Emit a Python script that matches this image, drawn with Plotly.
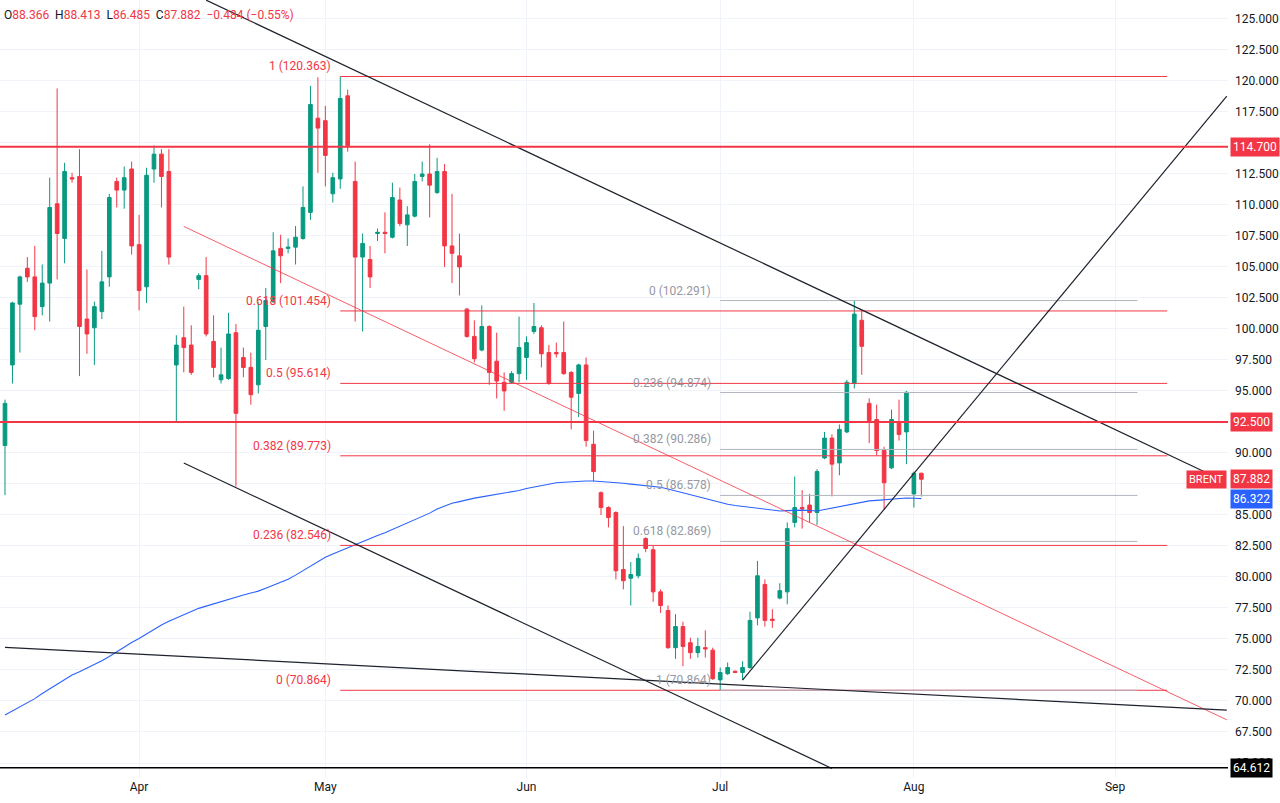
import pandas as pd
import plotly.graph_objects as go

# ---------------- data ----------------
opens = [90.6, 97.1, 102.0, 104.9, 104.2, 101.8, 103.7, 110.1, 107.3, 112.2,
         112.3, 100.8, 100.1, 101.4, 104.2, 111.9, 111.2, 112.9, 106.8, 103.4,
         112.9, 114.1, 112.7, 97.1, 99.3, 98.7, 104.0, 104.3, 99.0, 95.9,
         96.0, 99.7, 97.7, 96.9, 95.5, 100.2, 102.2, 106.5, 106.5, 106.6,
         107.3, 109.4, 117.0, 116.8, 110.9, 112.1, 118.8, 111.9, 105.8, 105.6,
         107.7, 107.8, 107.4, 110.4, 108.4, 109.1, 112.3, 112.5, 111.0, 112.7,
         106.7, 105.9, 101.6, 99.4, 98.3, 100.2, 97.4, 95.7, 95.7, 96.4,
         97.7, 99.8, 100.1, 98.1, 98.1, 98.1, 96.5, 94.8, 97.1, 90.7,
         86.8, 85.6, 85.2, 80.6, 79.9, 80.1, 83.1, 82.2, 78.8, 77.3,
         74.3, 76.0, 74.7, 73.9, 74.3, 74.1, 71.7, 72.2, 72.4, 72.3,
         72.7, 76.7, 79.4, 76.6, 78.3, 78.8, 84.4, 85.6, 85.8, 85.2,
         89.6, 91.2, 89.2, 91.7, 95.6, 100.7, 94.0, 92.7, 90.2, 88.8,
         92.5, 91.7, 86.7, 88.366]
highs = [94.3, 102.2, 104.3, 105.8, 106.7, 105.2, 112.2, 119.4, 113.4, 112.6,
         114.5, 104.8, 102.2, 106.3, 110.9, 112.2, 113.1, 113.5, 109.2, 113.0,
         114.8, 114.5, 114.5, 99.5, 101.8, 100.3, 104.5, 105.8, 101.1, 98.5,
         101.3, 100.4, 98.5, 98.1, 102.2, 103.3, 107.8, 107.6, 107.3, 108.3,
         111.5, 119.6, 120.3, 118.0, 112.6, 120.363, 119.3, 113.5, 107.7, 106.7,
         108.1, 109.4, 111.8, 111.4, 109.9, 112.5, 113.5, 114.9, 113.8, 113.3,
         110.9, 107.7, 101.7, 100.7, 101.9, 100.3, 99.7, 96.5, 96.6, 101.0,
         99.4, 102.1, 100.3, 98.7, 98.9, 100.6, 96.6, 97.2, 97.7, 91.8,
         86.9, 85.7, 85.3, 84.1, 81.2, 81.9, 83.2, 82.5, 79.0, 77.7,
         77.0, 76.4, 75.1, 75.1, 75.7, 74.3, 72.7, 73.1, 72.45, 73.2,
         77.2, 81.3, 79.8, 77.4, 79.5, 84.4, 88.1, 87.0, 86.7, 88.7,
         91.7, 91.5, 92.3, 95.9, 102.291, 101.5, 94.4, 93.9, 90.5, 93.5,
         94.3, 95.0, 88.5, 88.413]
lows = [86.6, 95.6, 98.1, 103.8, 99.9, 101.1, 100.6, 104.0, 105.3, 111.8,
        96.2, 98.0, 97.1, 100.8, 103.4, 109.8, 109.7, 106.0, 101.5, 102.1,
        111.8, 109.8, 105.2, 92.5, 96.5, 96.3, 103.2, 99.4, 96.1, 95.6,
        95.9, 87.3, 96.1, 93.9, 94.8, 97.5, 102.1, 103.7, 106.1, 105.2,
        107.2, 108.8, 112.6, 111.5, 110.2, 111.3, 114.3, 100.6, 99.8, 103.3,
        107.1, 106.1, 107.3, 108.3, 106.7, 109.0, 111.9, 109.0, 110.9, 105.0,
        103.7, 102.7, 99.3, 97.3, 98.2, 95.5, 94.4, 93.4, 95.6, 95.7,
        95.9, 99.6, 96.9, 95.5, 97.7, 96.3, 91.9, 92.9, 90.5, 87.7,
        85.0, 84.0, 79.8, 79.0, 77.7, 79.9, 82.0, 78.0, 77.1, 74.2,
        73.4, 72.8, 73.4, 73.5, 73.5, 71.7, 70.864, 72.1, 72.25, 71.7,
        72.6, 76.1, 76.0, 75.9, 78.2, 77.8, 84.0, 83.9, 84.4, 84.2,
        89.5, 86.5, 88.2, 91.6, 95.2, 96.3, 90.8, 89.8, 85.4, 88.7,
        91.0, 89.1, 85.6, 86.485]
closes = [94.0, 102.1, 104.2, 104.2, 101.0, 103.7, 109.8, 107.7, 112.7, 112.1,
          100.2, 99.6, 101.8, 103.8, 110.6, 111.2, 112.2, 106.7, 103.1, 112.4,
          114.1, 112.3, 105.8, 98.7, 98.5, 96.5, 104.3, 99.6, 96.9, 96.3,
          99.6, 93.2, 96.9, 94.7, 99.9, 102.3, 106.3, 105.9, 106.6, 107.4,
          109.8, 118.1, 116.2, 114.0, 112.2, 118.6, 114.8, 105.8, 106.9, 104.2,
          107.8, 107.7, 110.6, 108.5, 109.2, 111.9, 112.5, 111.6, 112.7, 106.7,
          106.1, 105.0, 99.4, 97.6, 100.2, 96.5, 95.8, 95.0, 96.4, 98.5,
          98.9, 100.2, 98.0, 95.6, 98.0, 96.4, 94.5, 97.1, 91.0, 88.5,
          85.6, 84.8, 80.5, 79.7, 80.2, 81.5, 82.3, 78.8, 77.7, 74.3,
          76.0, 74.4, 73.9, 74.4, 74.2, 71.8, 72.3, 72.7, 72.3, 72.7,
          76.5, 80.1, 76.5, 76.5, 78.9, 83.9, 85.6, 85.5, 85.2, 88.5,
          91.2, 89.1, 91.9, 95.7, 101.2, 98.6, 92.6, 90.2, 87.6, 92.7,
          91.5, 94.9, 88.366, 87.882]
ma_values = [68.87, 69.20, 69.55, 69.86, 70.19, 70.60, 70.97, 71.33, 71.75, 72.09,
             72.36, 72.64, 72.95, 73.24, 73.59, 73.98, 74.37, 74.71, 75.04, 75.42,
             75.76, 76.13, 76.44, 76.71, 76.95, 77.23, 77.47, 77.65, 77.84, 78.02,
             78.19, 78.37, 78.54, 78.71, 78.86, 79.09, 79.34, 79.58, 79.82, 80.15,
             80.51, 80.91, 81.27, 81.59, 81.85, 82.10, 82.36, 82.65, 82.89, 83.14,
             83.35, 83.56, 83.83, 84.07, 84.31, 84.59, 84.85, 85.15, 85.48, 85.69,
             85.94, 86.08, 86.23, 86.36, 86.46, 86.57, 86.65, 86.76, 86.84, 86.98,
             87.14, 87.27, 87.40, 87.52, 87.60, 87.64, 87.69, 87.73, 87.74, 87.74,
             87.71, 87.66, 87.61, 87.56, 87.49, 87.44, 87.37, 87.32, 87.24, 87.10,
             86.94, 86.81, 86.65, 86.51, 86.34, 86.19, 86.02, 85.87, 85.77, 85.69,
             85.60, 85.52, 85.44, 85.39, 85.32, 85.35, 85.38, 85.39, 85.36, 85.32,
             85.44, 85.55, 85.66, 85.77, 85.88, 86.03, 86.14, 86.18, 86.22, 86.30,
             86.36, 86.37, 86.35, 86.322]

symbol = "BRENT"
first_bar_date = "2022-03-11"
last_future_date = "2022-09-22"

# drawing tools: (date, price) anchors
trend_black = [
    (("2022-04-12", 126.52), ("2022-09-15", 88.48)),
    (("2022-04-08", 89.19), ("2022-07-19", 64.56)),
    (("2022-03-11", 74.33), ("2022-09-19", 69.26)),
    (("2022-07-05", 71.69), ("2022-09-19", 118.78)),
]
trend_red = [(("2022-04-08", 108.27), ("2022-09-19", 68.48))]
hlines_red = [114.7, 92.5]
hline_black = 64.612

fib_red = {"start": "2022-05-03", "end": "2022-09-09", "p0": 70.864, "p1": 120.363,
           "levels": [1, 0.618, 0.5, 0.382, 0.236, 0]}
fib_gray = {"start": "2022-07-01", "end": "2022-09-05", "p0": 102.291, "p1": 70.864,
            "levels": [0, 0.236, 0.382, 0.5, 0.618, 1]}

# ---------------- calendar (Sun-Fri sessions) ----------------
days = [d for d in pd.date_range(first_bar_date, last_future_date, freq="D") if d.dayofweek != 5]
dates = [d.strftime("%Y-%m-%d") for d in days]
bar_dates = dates[:len(opens)]
tickvals, ticktext = [], []
for i in range(1, len(days)):
    if days[i].month != days[i - 1].month:
        tickvals.append(dates[i])
        ticktext.append(days[i].strftime("%b"))

RED = "#f23645"
GREEN = "#089981"
BLUE = "#2962ff"
BLACK = "#131722"
GRAYLINE = "#b2b5be"
GRAYTXT = "#9598a1"
FONT = "Roboto"

fig = go.Figure()
# register all categories in order
fig.add_trace(go.Scatter(x=dates, y=[None] * len(dates), mode="lines",
                         showlegend=False, hoverinfo="skip"))

fig.add_trace(go.Candlestick(
    x=bar_dates, open=opens, high=highs, low=lows, close=closes,
    increasing=dict(line=dict(color=GREEN, width=1), fillcolor=GREEN),
    decreasing=dict(line=dict(color=RED, width=1), fillcolor=RED),
    showlegend=False, name=symbol))

fig.add_trace(go.Scatter(x=bar_dates, y=ma_values, mode="lines",
                         line=dict(color=BLUE, width=1.1), showlegend=False, hoverinfo="skip"))


def fmt(v):
    return f"{round(v + 1e-9, 3):.3f}"


annotations = []
for fib, lcol, tcol in [(fib_red, RED, RED), (fib_gray, GRAYLINE, GRAYTXT)]:
    for lv in fib["levels"]:
        price = fib["p0"] + (fib["p1"] - fib["p0"]) * lv
        fig.add_trace(go.Scatter(x=[fib["start"], fib["end"]], y=[price, price], mode="lines",
                                 line=dict(color=lcol, width=1), showlegend=False, hoverinfo="skip"))
        annotations.append(dict(x=fib["start"], y=price, xref="x", yref="y",
                                text=f"{lv:g} ({fmt(price)})", showarrow=False,
                                xanchor="right", yanchor="bottom", xshift=-7, yshift=1,
                                font=dict(family=FONT, size=12, color=tcol)))

for (a, b) in trend_red:
    fig.add_trace(go.Scatter(x=[a[0], b[0]], y=[a[1], b[1]], mode="lines",
                             line=dict(color="rgba(242,54,69,0.8)", width=1),
                             showlegend=False, hoverinfo="skip"))
for (a, b) in trend_black:
    fig.add_trace(go.Scatter(x=[a[0], b[0]], y=[a[1], b[1]], mode="lines",
                             line=dict(color="#1e222d", width=1.2),
                             showlegend=False, hoverinfo="skip"))

for lv in hlines_red:
    fig.add_hline(y=lv, line=dict(color=RED, width=2))
fig.add_hline(y=hline_black, line=dict(color="#000000", width=1.5))

# header
o, h, l, c = opens[-1], highs[-1], lows[-1], closes[-1]
chg = c - closes[-2]
pct = chg / closes[-2] * 100
MINUS = "\u2212"


def num(v):
    return (MINUS if v < 0 else "") + f"{abs(v):.3f}"


pct_txt = (MINUS if pct < 0 else "") + f"{abs(pct):.2f}%"
header = (f"<span style='color:{BLACK}'>O</span><span style='color:{RED}'>{o:.3f}</span>  "
          f"<span style='color:{BLACK}'>H</span><span style='color:{RED}'>{h:.3f}</span>  "
          f"<span style='color:{BLACK}'>L</span><span style='color:{RED}'>{l:.3f}</span>  "
          f"<span style='color:{BLACK}'>C</span><span style='color:{RED}'>{c:.3f}</span>  "
          f"<span style='color:{RED}'>{num(chg)} ({pct_txt})</span>")
annotations.append(dict(x=0, y=1, xref="paper", yref="paper", text=header, showarrow=False,
                        xanchor="left", yanchor="top", xshift=2, yshift=-6,
                        font=dict(family=FONT, size=12, color=BLACK)))

# price tags on the right axis
tags = [(hlines_red[0], RED), (hlines_red[1], RED), (c, RED), (ma_values[-1], BLUE), (hline_black, "#000000")]
for val, col in tags:
    annotations.append(dict(x=1, y=val, xref="paper", yref="y", text=f"{val:.3f}", showarrow=False,
                            xanchor="left", yanchor="middle", xshift=2, bgcolor=col, borderpad=2,
                            font=dict(family=FONT, size=12, color="white")))
annotations.append(dict(x=1, y=c, xref="paper", yref="y", text=symbol, showarrow=False,
                        xanchor="right", yanchor="middle", xshift=-1, bgcolor=RED, borderpad=2,
                        font=dict(family=FONT, size=11, color="white")))

fig.update_layout(
    width=1280, height=803,
    margin=dict(l=0, r=52, t=0, b=25),
    paper_bgcolor="white", plot_bgcolor="white",
    showlegend=False,
    annotations=annotations,
    xaxis=dict(type="category", categoryorder="array", categoryarray=dates,
               range=[-0.67, 164.16], tickmode="array", tickvals=tickvals, ticktext=ticktext,
               showgrid=True, gridcolor="#f0f3fa", zeroline=False, showline=False,
               rangeslider=dict(visible=False), ticks="",
               tickfont=dict(family=FONT, size=12, color=BLACK)),
    yaxis=dict(side="right", range=[63.79, 126.53], tick0=0, dtick=2.5, tickformat=".3f",
               showgrid=True, gridcolor="#f0f3fa", zeroline=False, showline=False, ticks="",
               ticklabelstandoff=6,
               tickfont=dict(family=FONT, size=12, color=BLACK)),
    font=dict(family=FONT),
)

fig.write_html("out.html", config={"displayModeBar": False},
               post_script="document.body.style.margin='0';")
